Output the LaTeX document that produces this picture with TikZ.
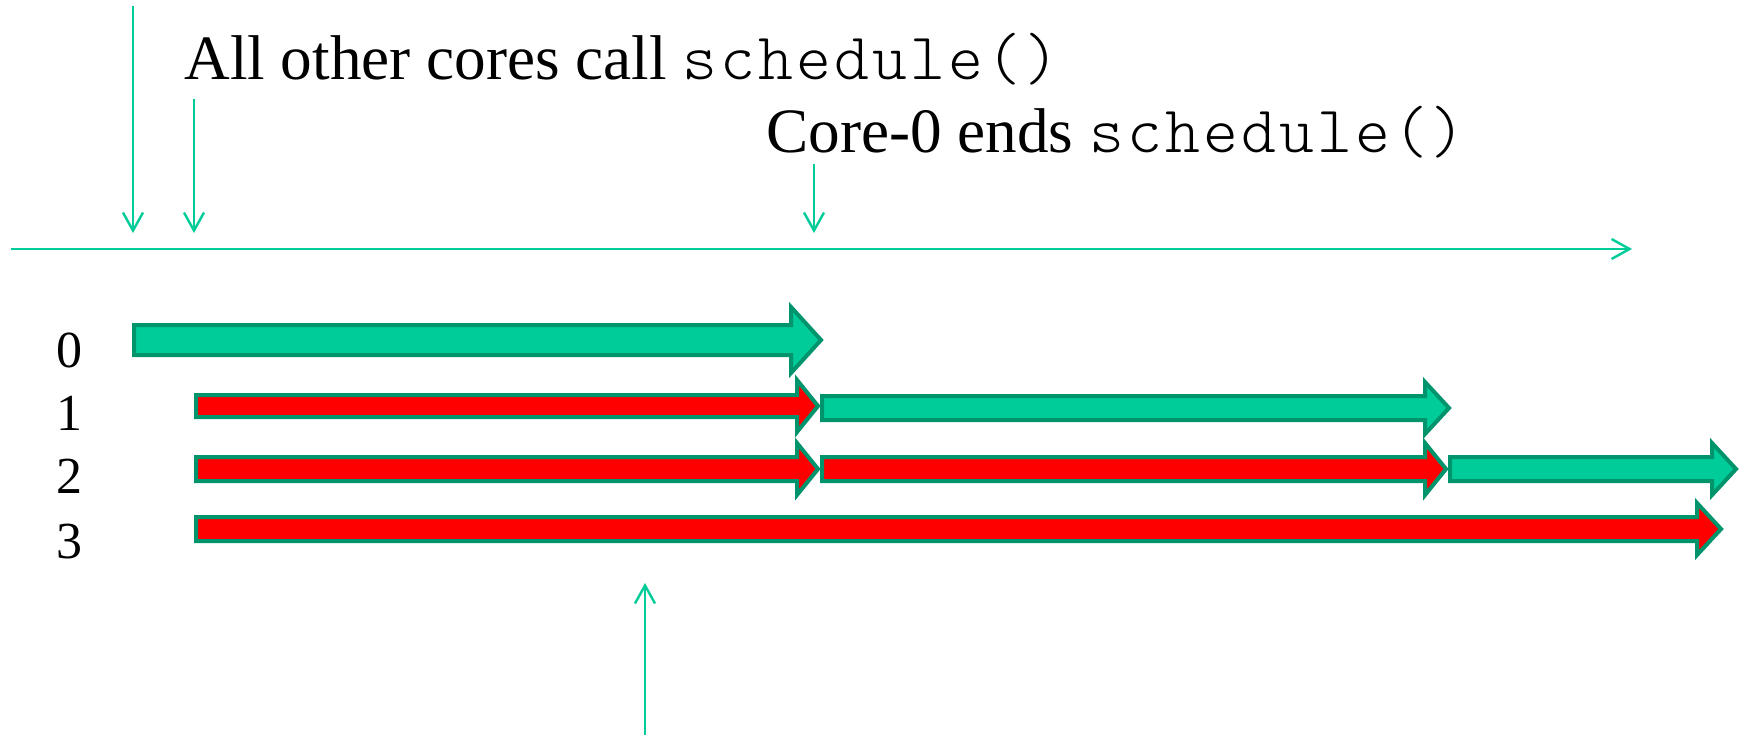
\documentclass[tikz,border=0pt]{standalone}
\usepackage{fontspec}
\setmainfont{Liberation Serif}
\setmonofont{Latin Modern Mono Light}[Scale=1.05,LetterSpace=4.7]
\usetikzlibrary{arrows.meta}
\definecolor{aqua}{RGB}{0,204,153}
\definecolor{edgegreen}{RGB}{0,148,108}
\definecolor{barred}{RGB}{255,0,0}
\newcommand{\blockarrow}[8]{%
  % #1 fill, #2 x0, #3 head base, #4 tip, #5 yc, #6 half body, #7 half head, #8 name
  \draw[blockstyle, fill=#1]
    (#2,#5-#6) -- (#3,#5-#6) -- (#3,#5-#7) -- (#4,#5) -- (#3,#5+#7)
    -- (#3,#5+#6) -- (#2,#5+#6) -- cycle;
  \coordinate (#8) at (#4,#5);}
\begin{document}
\begin{tikzpicture}[x=0.5pt,y=-0.5pt,
  thin/.style={draw=aqua, line width=1.2pt, -{Straight Barb[length=9pt,width=10pt,line width=1.2pt]}},
  blockstyle/.style={draw=edgegreen, line width=2pt, line join=miter},
  txt/.style={anchor=base west, inner sep=0pt, font=\fontsize{31.6}{36}\selectfont},
  lab/.style={anchor=base, inner sep=0pt, font=\fontsize{26}{30}\selectfont}]
\useasboundingbox (0,0) rectangle (1745,735);

% texts
\node[txt] (t1) at (184,79) {All other cores call \texttt{schedule()}};
\node[txt] (t2) at (766,152) {Core-0 ends \texttt{schedule()}};

% timeline and markers
\coordinate (tlA) at (11,249);
\coordinate (tlB) at (1632,249);
\draw[thin] (tlA) -- (tlB);
\coordinate (a1) at (133,6);   \coordinate (a1e) at (133,233);
\coordinate (a2) at (194,99);  \coordinate (a2e) at (194,233);
\coordinate (a3) at (814,164); \coordinate (a3e) at (814,233);
\draw[thin] (a1) -- (a1e);
\draw[thin] (a2) -- (a2e);
\draw[thin] (a3) -- (a3e);
\coordinate (b1) at (645,735); \coordinate (b1e) at (645,583);
\draw[thin] (b1) -- (b1e);

% labels
\node[lab] (l0) at (69,367) {0};
\node[lab] (l1) at (69,430) {1};
\node[lab] (l2) at (69,493) {2};
\node[lab] (l3) at (69,558) {3};

% block arrows
\blockarrow{aqua}{134}{791}{821}{340}{15}{33}{r0}
\blockarrow{barred}{196}{797}{818}{406}{11}{26}{r1a}
\blockarrow{aqua}{822}{1425}{1449}{408}{12}{26}{r1b}
\blockarrow{barred}{196}{797}{818}{469}{12}{26}{r2a}
\blockarrow{barred}{822}{1425}{1446}{469}{12}{26}{r2b}
\blockarrow{aqua}{1450}{1712}{1736}{469}{12}{26}{r2c}
\blockarrow{barred}{196}{1697}{1721}{529}{12}{26}{r3}
\end{tikzpicture}
\end{document}
